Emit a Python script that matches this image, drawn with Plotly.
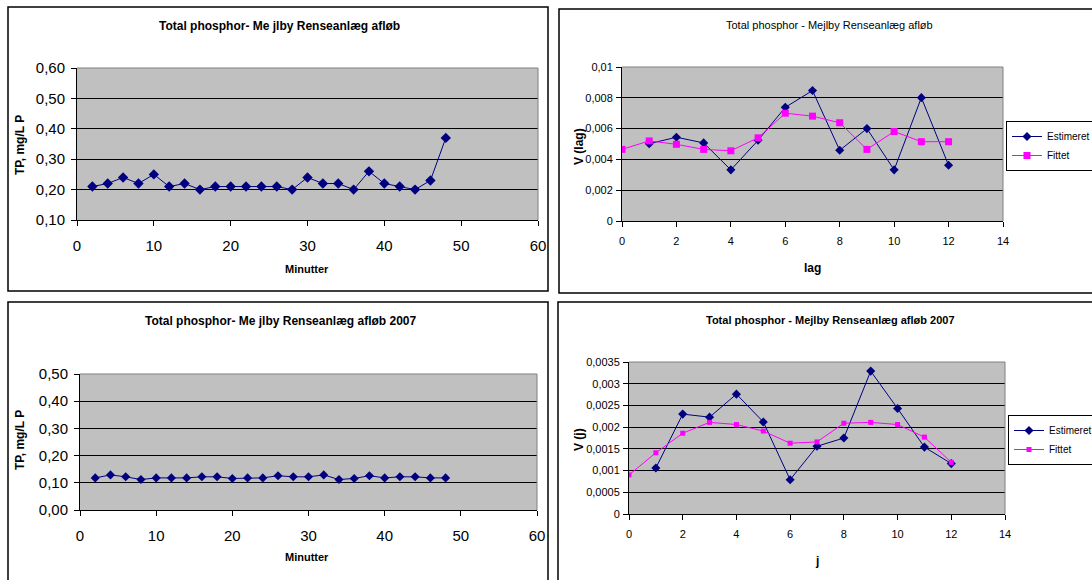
import plotly.graph_objects as go

W, H = 1092, 580

# ---------------- data ----------------
minutes = [2, 4, 6, 8, 10, 12, 14, 16, 18, 20, 22, 24, 26, 28, 30, 32, 34, 36, 38, 40, 42, 44, 46, 48]
tp_afloeb = [0.21, 0.22, 0.24, 0.22, 0.25, 0.21, 0.22, 0.20, 0.21, 0.21, 0.21, 0.21,
             0.21, 0.20, 0.24, 0.22, 0.22, 0.20, 0.26, 0.22, 0.21, 0.20, 0.23, 0.37]
tp_2007 = [0.118, 0.129, 0.122, 0.112, 0.118, 0.118, 0.118, 0.122, 0.122, 0.116, 0.118, 0.118,
           0.126, 0.122, 0.122, 0.129, 0.112, 0.116, 0.126, 0.118, 0.122, 0.122, 0.118, 0.118]

lag_est = [1, 2, 3, 4, 5, 6, 7, 8, 9, 10, 11, 12]
v_lag_est = [0.00502, 0.00544, 0.00507, 0.00332, 0.00524, 0.00738, 0.00847, 0.00459,
             0.00600, 0.00332, 0.00801, 0.00362]
lag_fit = [0, 1, 2, 3, 4, 5, 6, 7, 8, 9, 10, 11, 12]
v_lag_fit = [0.00465, 0.00520, 0.00498, 0.00465, 0.00456, 0.00540, 0.00700, 0.00681,
             0.00638, 0.00465, 0.00581, 0.00515, 0.00515]

j_est = [1, 2, 3, 4, 5, 6, 7, 8, 9, 10, 11, 12]
v_j_est = [0.00106, 0.00230, 0.00223, 0.00276, 0.00212, 0.00079, 0.00156, 0.00175,
           0.00329, 0.00243, 0.00154, 0.00116]
j_fit = [0, 1, 2, 3, 4, 5, 6, 7, 8, 9, 10, 11, 12]
v_j_fit = [0.00090, 0.00141, 0.00186, 0.00211, 0.00206, 0.00191, 0.00163, 0.00166,
           0.00209, 0.00211, 0.00206, 0.00177, 0.00119]

tp1_ticks = [0.10, 0.20, 0.30, 0.40, 0.50, 0.60]
tp3_ticks = [0.00, 0.10, 0.20, 0.30, 0.40, 0.50]
vlag_ticks = [0, 0.002, 0.004, 0.006, 0.008, 0.01]
vlag_text = ["0", "0,002", "0,004", "0,006", "0,008", "0,01"]
vj_ticks = [0, 0.0005, 0.001, 0.0015, 0.002, 0.0025, 0.003, 0.0035]
vj_text = ["0", "0,0005", "0,001", "0,0015", "0,002", "0,0025", "0,003", "0,0035"]
min_ticks = [0, 10, 20, 30, 40, 50, 60]
lag_ticks = [0, 2, 4, 6, 8, 10, 12, 14]

NAVY = "#000080"
MAG = "#FF00FF"
ARIAL = "Liberation Sans, Arial, sans-serif"
NARROW = "Liberation Sans Narrow, Arial Narrow, Liberation Sans, sans-serif"


def px(x):
    return x / W


def py(y):
    return 1 - y / H


fig = go.Figure()

# panel 1
fig.add_trace(go.Scatter(x=minutes, y=tp_afloeb, mode="lines+markers", xaxis="x", yaxis="y",
                         line=dict(color=NAVY, width=1), marker=dict(symbol="diamond", size=8, color=NAVY),
                         showlegend=False))
# panel 2
fig.add_trace(go.Scatter(x=lag_est, y=v_lag_est, mode="lines+markers", xaxis="x2", yaxis="y2",
                         name="Estimeret", legend="legend",
                         line=dict(color=NAVY, width=1), marker=dict(symbol="diamond", size=7, color=NAVY)))
fig.add_trace(go.Scatter(x=lag_fit, y=v_lag_fit, mode="lines+markers", xaxis="x2", yaxis="y2",
                         name="Fittet", legend="legend",
                         line=dict(color=MAG, width=1), marker=dict(symbol="square", size=7, color=MAG)))
# panel 3
fig.add_trace(go.Scatter(x=minutes, y=tp_2007, mode="lines+markers", xaxis="x3", yaxis="y3",
                         line=dict(color=NAVY, width=1), marker=dict(symbol="diamond", size=7, color=NAVY),
                         showlegend=False))
# panel 4
fig.add_trace(go.Scatter(x=j_est, y=v_j_est, mode="lines+markers", xaxis="x4", yaxis="y4",
                         name="Estimeret", legend="legend2",
                         line=dict(color=NAVY, width=1), marker=dict(symbol="diamond", size=7, color=NAVY)))
fig.add_trace(go.Scatter(x=j_fit, y=v_j_fit, mode="lines+markers", xaxis="x4", yaxis="y4",
                         name="Fittet", legend="legend2",
                         line=dict(color=MAG, width=1), marker=dict(symbol="square", size=5, color=MAG)))


def xax(domain, anchor, rng, ticks, font, standoff):
    return dict(domain=domain, anchor=anchor, range=rng, tickvals=ticks, showgrid=False,
                zeroline=False, showline=True, linecolor="black", linewidth=1,
                ticks="outside", ticklen=5, tickcolor="black", tickfont=font, fixedrange=True,
                ticklabelstandoff=standoff)


def yax(domain, anchor, rng, ticks, font, standoff, text=None, fmt=None):
    d = dict(domain=domain, anchor=anchor, range=rng, tickvals=ticks, showgrid=True,
             gridcolor="black", gridwidth=1, zeroline=False, showline=True, linecolor="black",
             linewidth=1, ticks="outside", ticklen=5, tickcolor="black", tickfont=font, fixedrange=True,
             ticklabelstandoff=standoff)
    if text is not None:
        d["ticktext"] = text
    if fmt is not None:
        d["tickformat"] = fmt
    return d


big = dict(family=ARIAL, size=15, color="black")
nar = dict(family=NARROW, size=11, color="black")

fig.update_layout(
    xaxis=xax([px(77), px(538)], "y", [0, 60], min_ticks, big, 7),
    yaxis=yax([py(220), py(68)], "x", [0.1, 0.6], tp1_ticks, big, 3, fmt=".2f"),
    xaxis2=xax([px(622), px(1003)], "y2", [0, 14], lag_ticks, nar, 5),
    yaxis2=yax([py(221), py(67)], "x2", [0, 0.01], vlag_ticks, nar, 1, text=vlag_text),
    xaxis3=xax([px(80), px(537)], "y3", [0, 60], min_ticks, big, 7),
    yaxis3=yax([py(510), py(374)], "x3", [0, 0.5], tp3_ticks, big, 3, fmt=".2f"),
    xaxis4=xax([px(629), px(1005)], "y4", [0, 14], lag_ticks, nar, 5),
    yaxis4=yax([py(514), py(362)], "x4", [0, 0.0035], vj_ticks, nar, 1, text=vj_text),
)

legfont = dict(family=NARROW, size=10, color="black")
fig.update_layout(
    width=W, height=H, separators=",.",
    margin=dict(l=0, r=0, t=0, b=0, autoexpand=False),
    paper_bgcolor="white", plot_bgcolor="#C0C0C0",
    legend=dict(x=px(1006), y=py(121), xanchor="left", yanchor="top", bgcolor="white",
                bordercolor="black", borderwidth=1, font=legfont,
                itemwidth=30, tracegroupgap=0),
    legend2=dict(x=px(1008), y=py(415), xanchor="left", yanchor="top", bgcolor="white",
                 bordercolor="black", borderwidth=1, font=legfont,
                 itemwidth=30, tracegroupgap=0),
)

shapes = []
# panel borders
for (x0, y0, x1, y1) in [(8, 7, 548, 291), (559, 9, 1100, 293), (8, 302, 548, 590), (558, 302, 1100, 590)]:
    shapes.append(dict(type="rect", xref="paper", yref="paper", x0=px(x0), x1=px(x1), y0=py(y1), y1=py(y0),
                       line=dict(color="black", width=1.5), fillcolor="rgba(0,0,0,0)", layer="below"))
# gray plot-area top/right borders
for ax in ["", "2", "3", "4"]:
    xr = "x" + ax + " domain"
    yr = "y" + ax + " domain"
    shapes.append(dict(type="line", xref=xr, yref=yr, x0=0, x1=1, y0=1, y1=1, line=dict(color="#808080", width=1)))
    shapes.append(dict(type="line", xref=xr, yref=yr, x0=1, x1=1, y0=0, y1=1, line=dict(color="#808080", width=1)))
fig.update_layout(shapes=shapes)

ann = []


def text(x, y, s, font, angle=0):
    ann.append(dict(x=px(x), y=py(y), xref="paper", yref="paper", text=s, showarrow=False,
                    font=font, textangle=angle, xanchor="center", yanchor="middle"))


bold11 = dict(family=ARIAL, size=12, color="black")
text(279, 26, "<b>Total phosphor- Me jlby Renseanlæg afløb</b>", bold11)
text(307, 269, "<b>Minutter</b>", dict(family=ARIAL, size=11, color="black"))
text(20, 145, "<b>TP, mg/L P</b>", dict(family=ARIAL, size=12, color="black"), -90)

text(280, 321, "<b>Total phosphor- Me jlby Renseanlæg afløb 2007</b>", bold11)
text(307, 557, "<b>Minutter</b>", dict(family=ARIAL, size=11, color="black"))
text(20, 440, "<b>TP, mg/L P</b>", dict(family=ARIAL, size=12, color="black"), -90)

text(829, 25, "Total phosphor - Mejlby Renseanlæg afløb", dict(family=NARROW, size=11, color="black"))
text(812, 268, "<b>lag</b>", dict(family=NARROW, size=12, color="black"))
text(579, 147, "<b>V (lag)</b>", dict(family=NARROW, size=12, color="black"), -90)

text(830, 320, "<b>Total phosphor - Mejlby Renseanlæg afløb 2007</b>", dict(family=NARROW, size=11, color="black"))
text(817, 561, "<b>j</b>", dict(family=NARROW, size=12, color="black"))
text(579, 440, "<b>V (j)</b>", dict(family=NARROW, size=12, color="black"), -90)

fig.update_layout(annotations=ann)

fig.write_html("out.html", config=dict(displayModeBar=False))
